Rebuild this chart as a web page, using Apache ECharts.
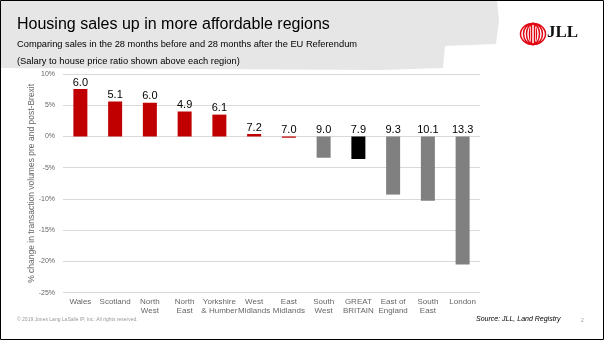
<!DOCTYPE html>
<html><head><meta charset="utf-8">
<script src="https://cdn.jsdelivr.net/npm/echarts@6/dist/echarts.min.js"></script>
<style>html,body{margin:0;padding:0;background:#fff}#c{width:604px;height:340px}</style>
</head><body><div id="c"></div>
<script>
var categories = ['Wales','Scotland','North\nWest','North\nEast','Yorkshire\n& Humber','West\nMidlands','East\nMidlands','South\nWest','GREAT\nBRITAIN','East of\nEngland','South\nEast','London'];
var changeValues = [7.6, 5.6, 5.4, 4.0, 3.5, 0.4, -0.2, -3.4, -3.6, -9.3, -10.3, -20.5];
var ratioLabels = ['6.0','5.1','6.0','4.9','6.1','7.2','7.0','9.0','7.9','9.3','10.1','13.3'];
var barColors = ['#C00000','#C00000','#C00000','#C00000','#C00000','#C00000','#C00000','#808080','#000000','#808080','#808080','#808080'];
var yTicks = [10, 5, 0, -5, -10, -15, -20, -25];

var chart = echarts.init(document.getElementById('c'), null, {renderer:'canvas'});
var font = 'Arial, "Liberation Sans", sans-serif';
chart.setOption({
  animation:false,
  backgroundColor:'#fff',
  grid:{left:63, right:124, top:74, bottom:47.3},
  xAxis:{type:'category', data:categories, position:'bottom',
    axisLine:{show:false}, axisTick:{show:false},
    axisLabel:{interval:0, margin:4, fontSize:8, lineHeight:9.5, color:'#666', fontFamily:font}},
  yAxis:{type:'value', min:yTicks[yTicks.length-1], max:yTicks[0], interval:5,
    name:'% change in transaction volumes pre and post-Brexit', nameLocation:'middle', nameGap:27,
    nameMoveOverlap:false,
    nameTextStyle:{fontSize:8.5, color:'#666', fontFamily:font},
    axisLine:{show:false}, axisTick:{show:false},
    axisLabel:{formatter:'{value}%', fontSize:7, color:'#666', margin:8, fontFamily:font},
    splitLine:{lineStyle:{color:'#d9d9d9', width:1}}},
  series:[
    {type:'bar', barWidth:14, data:changeValues.map(function(v,i){return {value:v, itemStyle:{color:barColors[i]}};}),
     itemStyle:{borderWidth:0}},
    {type:'bar', barWidth:14, barGap:'-100%', silent:true,
     data:changeValues.map(function(v){return Math.max(v,0);}),
     itemStyle:{color:'rgba(0,0,0,0)'},
     label:{show:true, position:'top', distance:1, fontSize:11, color:'#000', fontFamily:font,
       formatter:function(p){return ratioLabels[p.dataIndex];}}}
  ],
  graphic:[
    {type:'polygon', z:-10, shape:{points:[[1,1],[497,1],[499,20],[496,44],[445,46],[443,68],[380,70],[200,69],[1,68]]}, style:{fill:'#e6e6e6'}},
    {type:'rect', z:100, shape:{x:0.5,y:0.5,width:603,height:339}, style:{fill:null, stroke:'#000', lineWidth:1}},
    {type:'text', left:17, top:17, style:{text:'Housing sales up in more affordable regions', font:'16px '+font, fill:'#000'}},
    {type:'text', left:17, top:40, style:{text:'Comparing sales in the 28 months before and 28 months after the EU Referendum', font:'9.3px '+font, fill:'#000'}},
    {type:'text', left:17, top:57, style:{text:'(Salary to house price ratio shown above each region)', font:'9.3px '+font, fill:'#000'}},
    {type:'group', left:518, top:21, children:[
      {type:'ellipse', shape:{cx:13.5,cy:11.5,rx:12.5,ry:10.5}, style:{fill:null, stroke:'#E30613', lineWidth:1.5}},
      {type:'ellipse', shape:{cx:13.5,cy:11.5,rx:9.5,ry:10.5}, style:{fill:null, stroke:'#E30613', lineWidth:1.5}},
      {type:'ellipse', shape:{cx:13.5,cy:11.5,rx:6.5,ry:10.5}, style:{fill:null, stroke:'#E30613', lineWidth:1.5}},
      {type:'ellipse', shape:{cx:13.5,cy:11.5,rx:3.5,ry:10.5}, style:{fill:null, stroke:'#E30613', lineWidth:1.5}},
      {type:'rect', shape:{x:10.5,y:4,width:6,height:15}, style:{fill:'#fff'}},
      {type:'line', shape:{x1:12,y1:1,x2:12,y2:22}, style:{stroke:'#E30613', lineWidth:1.5}},
      {type:'line', shape:{x1:15,y1:1,x2:15,y2:22}, style:{stroke:'#E30613', lineWidth:1.5}}
    ]},
    {type:'text', left:547, top:24, style:{text:'JLL', font:'bold 17px "Liberation Serif", "DejaVu Serif", serif', fill:'#111'}},
    {type:'text', left:17, top:317, style:{text:'© 2019 Jones Lang LaSalle IP, Inc. All rights reserved.', font:'5px '+font, fill:'#999'}},
    {type:'text', left:476, top:316, style:{text:'Source: JLL, Land Registry', font:'italic 7px '+font, fill:'#000'}},
    {type:'text', left:581, top:318, style:{text:'2', font:'5px '+font, fill:'#999'}}
  ]
});
</script></body></html>
